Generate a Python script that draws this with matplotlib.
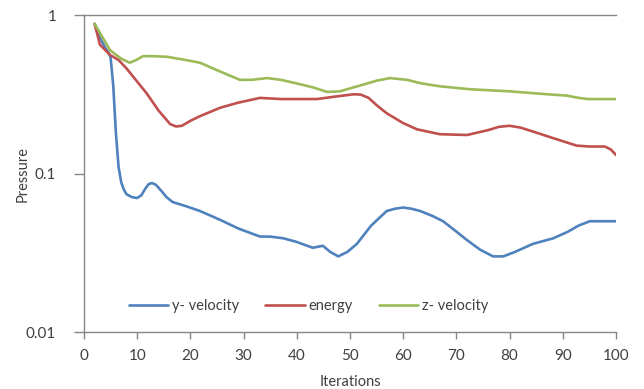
import matplotlib
matplotlib.use("Agg")
import matplotlib.pyplot as plt
from matplotlib.ticker import FixedLocator, FixedFormatter, NullLocator

plt.rcParams['font.family'] = ['Lato', 'DejaVu Sans']

# Pressure residual history per iteration
y_vel_x = [2, 3, 4, 4.6, 5, 5.5, 6, 6.5, 7, 7.5, 8, 9, 10, 10.8, 11.5, 12.2, 12.8, 13.5,
           14.5, 15.5, 16.7, 18, 19.3, 21.8, 25.6, 29, 33.1, 35, 37.5, 40, 43, 44.9,
           46.3, 47.8, 49.5, 51.3, 54, 56.9, 58.5, 60, 61.5, 63.2, 65.5, 67.5, 70, 72,
           74.5, 76.9, 78.8, 81, 84.4, 88.2, 91, 93, 95.1, 97, 100]
y_vel = [0.88, 0.72, 0.62, 0.58, 0.54, 0.36, 0.18, 0.11, 0.088, 0.079, 0.074, 0.071,
         0.070, 0.073, 0.080, 0.086, 0.087, 0.085, 0.078, 0.071, 0.066, 0.064, 0.062,
         0.058, 0.051, 0.045, 0.040, 0.040, 0.039, 0.037, 0.034, 0.035, 0.032, 0.030,
         0.032, 0.036, 0.047, 0.058, 0.060, 0.061, 0.060, 0.058, 0.054, 0.050, 0.043,
         0.038, 0.033, 0.030, 0.030, 0.032, 0.036, 0.039, 0.043, 0.047, 0.050, 0.050,
         0.050]

energy_x = [2, 3, 4.9, 6.5, 8, 10, 11.8, 14, 16.2, 17.3, 18.4, 20, 21.8, 25.6, 29,
            33.1, 37, 43.8, 47, 50.6, 52, 53.5, 55, 56.9, 60, 62.6, 66.9, 72, 76, 78,
            80, 82, 84.4, 88, 92.6, 95, 97.9, 99, 100]
energy = [0.88, 0.65, 0.56, 0.52, 0.46, 0.38, 0.32, 0.25, 0.205, 0.198, 0.20, 0.215,
          0.23, 0.26, 0.28, 0.30, 0.295, 0.295, 0.305, 0.316, 0.315, 0.30, 0.27, 0.24,
          0.208, 0.190, 0.177, 0.175, 0.188, 0.197, 0.200, 0.195, 0.184, 0.168, 0.150,
          0.148, 0.148, 0.142, 0.131]

z_vel_x = [2, 4.9, 7, 8.6, 9.8, 11.1, 13, 15.6, 18.5, 21.8, 25.6, 29.3, 31.5, 34.4, 37,
           40, 43, 45.7, 48.1, 52, 55, 57.5, 60.7, 63.5, 66.9, 72.6, 80, 85, 90.8, 93,
           94.7, 100]
z_vel = [0.88, 0.60, 0.53, 0.50, 0.52, 0.55, 0.55, 0.545, 0.525, 0.50, 0.44, 0.39,
         0.39, 0.40, 0.39, 0.37, 0.35, 0.327, 0.33, 0.36, 0.385, 0.40, 0.39, 0.37,
         0.355, 0.34, 0.33, 0.32, 0.31, 0.30, 0.295, 0.295]

x_ticks = [0, 10, 20, 30, 40, 50, 60, 70, 80, 90, 100]
y_ticks = [0.01, 0.1, 1]
y_tick_labels = ["0.01", "0.1", "1"]

text_color = "#404040"
axis_color = "#868686"

fig = plt.figure(figsize=(6.44, 3.89), dpi=100)
ax = fig.add_axes([0.1304, 0.1465, 0.8261, 0.8149])

for xs, ys, col, lab in [(y_vel_x, y_vel, "#4F81BD", "y- velocity"),
                         (energy_x, energy, "#C0504D", "energy"),
                         (z_vel_x, z_vel, "#9BBB59", "z- velocity")]:
    ax.plot(xs, ys, color=col, lw=1.9, label=lab,
            solid_joinstyle="round", solid_capstyle="round")

ax.set_yscale("log")
ax.set_xlim(0, 100)
ax.set_ylim(0.01, 1)
ax.xaxis.set_major_locator(FixedLocator(x_ticks))
ax.yaxis.set_major_locator(FixedLocator(y_ticks))
ax.yaxis.set_major_formatter(FixedFormatter(y_tick_labels))
ax.yaxis.set_minor_locator(NullLocator())

ax.spines["right"].set_visible(False)
for side in ("left", "bottom", "top"):
    ax.spines[side].set_color(axis_color)
    ax.spines[side].set_linewidth(1.0)

ax.tick_params(axis="both", direction="out", width=1, color=axis_color,
               labelcolor=text_color, labelsize=11)
ax.tick_params(axis="x", length=5, pad=7)
ax.tick_params(axis="y", length=7, pad=13)

ax.set_xlabel("Iterations", color=text_color, fontsize=10.5, labelpad=9)
ax.set_ylabel("Pressure", color=text_color, fontsize=10.5, labelpad=-3)

leg = ax.legend(loc="center", bbox_to_anchor=(0.422, 0.082), ncol=3, frameon=False,
                fontsize=10.5, handlelength=2.7, columnspacing=1.8, handletextpad=0.25)
for t in leg.get_texts():
    t.set_color(text_color)

fig.savefig("out.png", dpi=100)
